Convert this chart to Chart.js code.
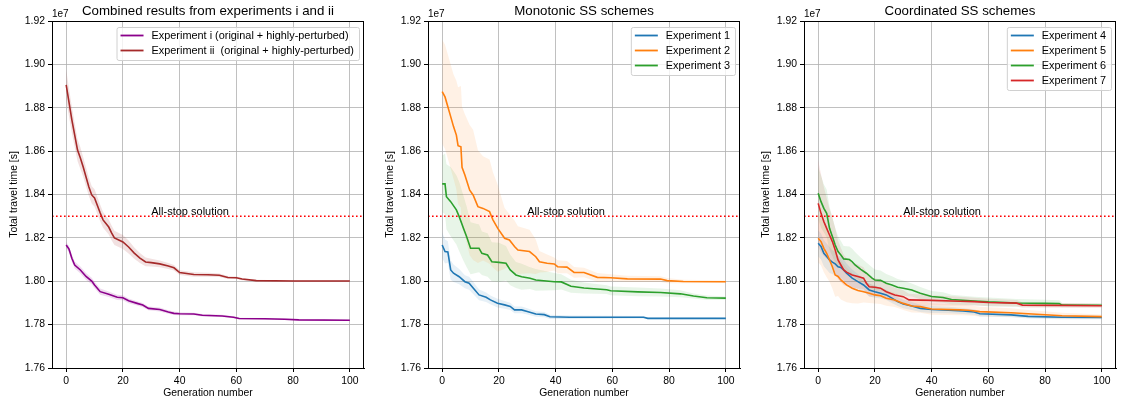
<!DOCTYPE html>
<html>
<head>
<meta charset="utf-8">
<script src="https://cdn.jsdelivr.net/npm/chart.js@4.4.1/dist/chart.umd.min.js"></script>
<style>
  html, body { margin:0; padding:0; background:#fff; }
  #wrap { position:relative; width:1121px; height:401px; overflow:hidden; }
  #wrap canvas { position:absolute; top:0; }
</style>
</head>
<body>
<div id="wrap">
  <canvas id="c1" width="369" height="401" style="left:0px"></canvas>
  <canvas id="c2" width="369" height="401" style="left:376px"></canvas>
  <canvas id="c3" width="369" height="401" style="left:752px"></canvas>
</div>
<script>
// ---- data (values in units of 1e7 s) ----
// each row: [generation, mean, half-width of shaded band]
const genTicks = [0, 20, 40, 60, 80, 100];
const timeTicks = [1.76, 1.78, 1.80, 1.82, 1.84, 1.86, 1.88, 1.90, 1.92];
const allStop = 1.83;
const allStopLabel = 'All-stop solution';
const offsetLabel = '1e7';

const expI = [[0,1.8167,0.0014],[1,1.8148,0.0015],[2,1.8106,0.0016],[3,1.8075,0.0016],[5,1.8052,0.0016],[7,1.8022,0.0016],
  [9,1.8001,0.0015],[10,1.7983,0.0015],[12,1.7952,0.0014],[15,1.7940,0.0013],[18,1.7926,0.0012],[20,1.7924,0.0012],
  [22,1.7910,0.0011],[25,1.7898,0.0010],[27,1.7890,0.0010],[29,1.7875,0.0009],[33,1.7870,0.0009],[36,1.7858,0.0008],
  [38,1.7852,0.0008],[40,1.7850,0.0007],[45,1.7849,0.0006],[48,1.7843,0.0006],[55,1.7840,0.0005],[59,1.7834,0.0005],
  [61,1.7828,0.0004],[70,1.7827,0.0004],[77,1.7825,0.0004],[82,1.7822,0.0003],[100,1.7820,0.0003]];
const expII = [[0,1.8905,0.007],[2,1.8744,0.006],[4,1.8605,0.005],[5,1.8568,0.005],[6,1.8527,0.0045],[8,1.8435,0.0042],
  [9,1.8398,0.004],[10,1.8384,0.004],[12,1.8315,0.0038],[13,1.8283,0.0036],[15,1.8250,0.0035],[16,1.8223,0.0034],
  [17,1.8200,0.0033],[20,1.8181,0.0032],[22,1.8158,0.003],[24,1.8130,0.0026],[26,1.8107,0.0023],[28,1.8089,0.002],
  [30,1.8086,0.0018],[33,1.8080,0.0016],[36,1.8070,0.0014],[38,1.8062,0.0013],[40,1.8040,0.0011],[45,1.8031,0.001],
  [50,1.8030,0.0009],[54,1.8028,0.0008],[57,1.8017,0.0007],[60,1.8016,0.0006],[62,1.8010,0.0005],[67,1.8003,0.0004],
  [80,1.8001,0.0003],[100,1.8001,0.0003]];

const exp1 = [[0,1.8167,0.006],[1,1.8137,0.0055],[2,1.8135,0.005],[3,1.8052,0.0045],[4,1.8037,0.004],[6,1.8021,0.0035],
  [8,1.7998,0.003],[9.5,1.7991,0.003],[11,1.7968,0.0028],[13,1.7937,0.0025],[15.5,1.7926,0.0022],[17,1.7914,0.002],
  [19.5,1.7899,0.002],[22,1.7891,0.0018],[24,1.7884,0.0017],[25.5,1.7868,0.0016],[28,1.7868,0.0015],[30,1.7861,0.0014],
  [33,1.7849,0.0013],[36,1.7846,0.0012],[38,1.7836,0.001],[45,1.7834,0.0008],[60,1.7834,0.0007],[71,1.7834,0.0006],
  [72.5,1.7829,0.0004],[100,1.7829,0.0003]];
const exp2 = [[0,1.8874,0.024],[1,1.8850,0.024],[2,1.8805,0.024],[3,1.8759,0.024],[4,1.8713,0.024],[5,1.8674,0.025],
  [5.6,1.8625,0.027],[6.6,1.8620,0.028],[7,1.8525,0.028],[8,1.8490,0.028],[9.7,1.8420,0.03],[10.9,1.8398,0.03],
  [12.6,1.8344,0.026],[14.4,1.8336,0.024],[16.7,1.8321,0.024],[17.9,1.8283,0.022],[19.6,1.8244,0.02],[22,1.8198,0.014],
  [23.7,1.8190,0.012],[25.5,1.8160,0.012],[26.7,1.8144,0.011],[30.8,1.8137,0.010],[33,1.8113,0.008],[34.3,1.8090,0.005],
  [37,1.8083,0.004],[39.5,1.8080,0.003],[40.7,1.8067,0.003],[44,1.8065,0.0028],[46.5,1.8041,0.0025],[50,1.8040,0.0022],
  [54.7,1.8018,0.002],[59.4,1.8016,0.0016],[65.3,1.8011,0.0014],[77,1.8010,0.0013],[79.3,1.8003,0.0012],
  [85,1.7999,0.0008],[100,1.7998,0.0005]];
const exp3 = [[0,1.8449,0.013],[1,1.8449,0.014],[1.5,1.8390,0.015],[3,1.8367,0.016],[5,1.8329,0.016],[6,1.8298,0.016],
  [7.5,1.8244,0.015],[8.6,1.8206,0.014],[10,1.8152,0.012],[13,1.8152,0.011],[14,1.8129,0.01],[16,1.8121,0.01],
  [17.5,1.8090,0.009],[20,1.8087,0.009],[22.5,1.8083,0.008],[24,1.8052,0.007],[26,1.8029,0.006],[28,1.8021,0.006],
  [31,1.8014,0.005],[33,1.8006,0.005],[39.5,1.7998,0.004],[42,1.7997,0.0035],[45.4,1.7977,0.003],[50,1.7969,0.0025],
  [58,1.7961,0.002],[59.4,1.7956,0.002],[69,1.7951,0.002],[77,1.7948,0.0018],[84,1.7942,0.0016],[88.6,1.7932,0.0012],
  [93.3,1.7924,0.001],[100,1.7922,0.0008]];

const exp4 = [[0,1.8175,0.006],[1,1.8160,0.006],[2,1.8129,0.006],[3,1.8114,0.006],[4,1.8098,0.006],[5,1.8088,0.0055],
  [6,1.8080,0.0055],[7,1.8067,0.005],[8,1.8064,0.005],[9,1.8052,0.005],[10,1.8037,0.0045],[12,1.8014,0.004],
  [14,1.7998,0.0035],[16,1.7983,0.003],[18,1.7960,0.003],[20,1.7952,0.0028],[22,1.7945,0.0025],[24,1.7937,0.0024],
  [26,1.7922,0.0022],[28,1.7906,0.002],[30,1.7895,0.002],[33,1.7886,0.0018],[36,1.7875,0.0017],[40,1.7870,0.0016],
  [46,1.7867,0.0015],[51,1.7863,0.0014],[55,1.7858,0.0013],[57,1.7850,0.0012],[68,1.7845,0.0011],[74,1.7838,0.001],
  [86,1.7834,0.0009],[100,1.7833,0.0008]];
const exp5 = [[0,1.8198,0.011],[1,1.8183,0.011],[2,1.8152,0.011],[3,1.8129,0.011],[4,1.8098,0.01],[5,1.8067,0.01],
  [6,1.8029,0.01],[7,1.8022,0.009],[8,1.8006,0.009],[10,1.7983,0.008],[12,1.7968,0.007],[14,1.7957,0.006],
  [16,1.7952,0.005],[18,1.7945,0.0045],[20,1.7937,0.004],[22,1.7933,0.0038],[24,1.7922,0.0035],[27,1.7914,0.0033],
  [30,1.7898,0.003],[33,1.7886,0.003],[36,1.7883,0.0028],[40,1.7872,0.0027],[50,1.7868,0.0025],[53,1.7866,0.0024],
  [57,1.7860,0.0022],[68,1.7855,0.002],[74,1.7850,0.0018],[86,1.7841,0.0014],[100,1.7837,0.001]];
const exp6 = [[0,1.8406,0.012],[1,1.8367,0.012],[2,1.8336,0.011],[3,1.8313,0.011],[4,1.8244,0.01],[5,1.8206,0.009],
  [6,1.8167,0.008],[7,1.8137,0.007],[8,1.8121,0.0065],[9,1.8103,0.006],[11,1.8100,0.006],[12,1.8090,0.006],
  [13,1.8075,0.006],[15,1.8055,0.0055],[17,1.8037,0.005],[19,1.8014,0.005],[20,1.8006,0.0048],[22,1.8004,0.0045],
  [24,1.7991,0.0042],[26,1.7983,0.004],[28,1.7972,0.0038],[30,1.7968,0.0035],[33,1.7960,0.003],[36,1.7945,0.0028],
  [40,1.7930,0.0025],[44,1.7925,0.0024],[47,1.7916,0.0022],[55,1.7909,0.002],[60,1.7905,0.002],[70,1.7900,0.0018],
  [80,1.7898,0.0017],[85,1.7897,0.0015],[86,1.7890,0.001],[100,1.7889,0.0008]];
const exp7 = [[0,1.8359,0.02],[1,1.8313,0.018],[2,1.8275,0.016],[3,1.8244,0.014],[4,1.8213,0.012],[5,1.8183,0.011],
  [6,1.8144,0.01],[7,1.8098,0.009],[8,1.8075,0.008],[9,1.8052,0.007],[10,1.8042,0.0065],[12,1.8029,0.006],
  [14,1.8022,0.0055],[16,1.8014,0.005],[17,1.7991,0.0048],[18,1.7975,0.0045],[20,1.7972,0.0042],[22,1.7968,0.004],
  [24,1.7952,0.0036],[27,1.7937,0.0033],[30,1.7929,0.003],[32,1.7914,0.0028],[40,1.7912,0.0024],[50,1.7908,0.002],
  [55,1.7906,0.0018],[60,1.7902,0.0017],[70,1.7899,0.0015],[72,1.7890,0.0012],[100,1.7887,0.001]];

const panels = [
  { id:'c1', title:'Combined results from experiments i and ii', series:[
    { label:'Experiment i (original + highly-perturbed)', color:'#8b008b', band:'rgba(139,0,139,0.14)', rows:expI },
    { label:'Experiment ii  (original + highly-perturbed)', color:'#a52a2a', band:'rgba(165,42,42,0.14)', rows:expII }
  ]},
  { id:'c2', title:'Monotonic SS schemes', series:[
    { label:'Experiment 1', color:'#1f77b4', band:'rgba(31,119,180,0.11)', rows:exp1 },
    { label:'Experiment 2', color:'#ff7f0e', band:'rgba(255,127,14,0.11)', rows:exp2 },
    { label:'Experiment 3', color:'#2ca02c', band:'rgba(44,160,44,0.11)', rows:exp3 }
  ]},
  { id:'c3', title:'Coordinated SS schemes', series:[
    { label:'Experiment 4', color:'#1f77b4', band:'rgba(31,119,180,0.11)', rows:exp4 },
    { label:'Experiment 5', color:'#ff7f0e', band:'rgba(255,127,14,0.11)', rows:exp5 },
    { label:'Experiment 6', color:'#2ca02c', band:'rgba(44,160,44,0.11)', rows:exp6 },
    { label:'Experiment 7', color:'#d62728', band:'rgba(214,39,40,0.11)', rows:exp7 }
  ]}
];

const FONT = '"Liberation Sans", Arial, Helvetica, sans-serif';
Chart.defaults.font.family = FONT;
Chart.defaults.color = '#000';

// axes frame, title over the axes, offset text, reference label, matplotlib-like legend
const mplDecor = {
  id:'mplDecor',
  afterDatasetsDraw(chart, args, opts){
    const { ctx, chartArea:{left, right, top}, scales:{x, y} } = chart;
    ctx.save();
    ctx.fillStyle = '#000';
    ctx.textBaseline = 'alphabetic';
    ctx.font = `11px ${FONT}`;
    ctx.fillText(allStopLabel, x.getPixelForValue(30), y.getPixelForValue(1.8305));
    ctx.font = `10px ${FONT}`;
    ctx.fillText(offsetLabel, left, top - 4);
    ctx.font = `13.3px ${FONT}`;
    ctx.textAlign = 'center';
    ctx.fillText(opts.title, (left + right) / 2, top - 6);
    ctx.restore();
  },
  afterDraw(chart, args, opts){
    const { ctx, chartArea:{left, right, top, bottom} } = chart;
    ctx.save();
    ctx.strokeStyle = '#000'; ctx.lineWidth = 1;
    ctx.strokeRect(left + 0.5, top + 0.5, right - left - 1, bottom - top);
    const items = opts.items || [];
    ctx.font = `10.9px ${FONT}`;
    const tw = Math.max(...items.map(i => ctx.measureText(i.label).width));
    const w = 35 + tw + 5, h = items.length * 15 + 3;
    const bx = right - 5 - w, by = top + 6;
    ctx.beginPath();
    ctx.roundRect(bx + 0.5, by + 0.5, w, h, 2);
    ctx.fillStyle = 'rgba(255,255,255,0.8)'; ctx.fill();
    ctx.strokeStyle = '#d0d0d0'; ctx.stroke();
    items.forEach((it, i) => {
      const cy = by + 8.5 + i * 15;
      ctx.strokeStyle = it.color; ctx.lineWidth = 1.8;
      ctx.beginPath(); ctx.moveTo(bx + 4, cy); ctx.lineTo(bx + 27, cy); ctx.stroke();
      ctx.fillStyle = '#000'; ctx.textBaseline = 'middle';
      ctx.fillText(it.label, bx + 35, cy + 0.5);
    });
    ctx.restore();
  }
};

function buildDatasets(series){
  const ds = [];
  series.forEach(s => {
    ds.push({ data:s.rows.map(r => ({x:r[0], y:r[1] + r[2]})), borderWidth:0, pointRadius:0,
      backgroundColor:s.band, fill:'+1', order:100 });
    ds.push({ data:s.rows.map(r => ({x:r[0], y:r[1] - r[2]})), borderWidth:0, pointRadius:0,
      fill:false, order:100 });
  });
  series.forEach((s, i) => {
    ds.push({ label:s.label, data:s.rows.map(r => ({x:r[0], y:r[1]})), borderColor:s.color,
      borderWidth:1.6, pointRadius:0, fill:false, tension:0, order:series.length - i });
  });
  ds.push({ data:[{x:-5, y:allStop}, {x:105, y:allStop}], borderColor:'#ff0000', borderWidth:1.6,
    borderDash:[1.6, 2.4], pointRadius:0, fill:false, order:0 });
  return ds;
}

panels.forEach(p => {
  new Chart(document.getElementById(p.id), {
    type:'line',
    data:{ datasets:buildDatasets(p.series) },
    options:{
      responsive:false, animation:false, devicePixelRatio:1,
      layout:{ padding:{ left:0, right:5, top:21, bottom:0 } },
      scales:{
        x:{ type:'linear', min:-5, max:105,
          afterBuildTicks:s => { s.ticks = genTicks.map(v => ({value:v})); },
          afterFit:s => { s.height = 33; },
          grid:{ color:'rgba(176,176,176,0.8)', lineWidth:1, tickLength:4, tickColor:'#000' },
          border:{ display:true, color:'#000', width:1 },
          ticks:{ font:{size:10.4}, color:'#000', padding:3, maxRotation:0, callback:v => String(v) },
          title:{ display:true, text:'Generation number', font:{size:10.4}, color:'#000', padding:{top:0, bottom:2} }
        },
        y:{ type:'linear', min:1.76, max:1.92,
          afterBuildTicks:s => { s.ticks = timeTicks.map(v => ({value:v})); },
          afterFit:s => { s.width = 52; },
          grid:{ color:'rgba(176,176,176,0.8)', lineWidth:1, tickLength:4, tickColor:'#000' },
          border:{ display:true, color:'#000', width:1 },
          ticks:{ font:{size:10.4}, color:'#000', padding:3, callback:v => v.toFixed(2) },
          title:{ display:true, text:'Total travel time [s]', font:{size:10.4}, color:'#000', padding:{top:7.5, bottom:0} }
        }
      },
      plugins:{
        legend:{ display:false },
        tooltip:{ enabled:false },
        title:{ display:false },
        mplDecor:{ title:p.title, items:p.series.map(s => ({label:s.label, color:s.color})) }
      }
    },
    plugins:[mplDecor]
  });
});
</script>
</body>
</html>
